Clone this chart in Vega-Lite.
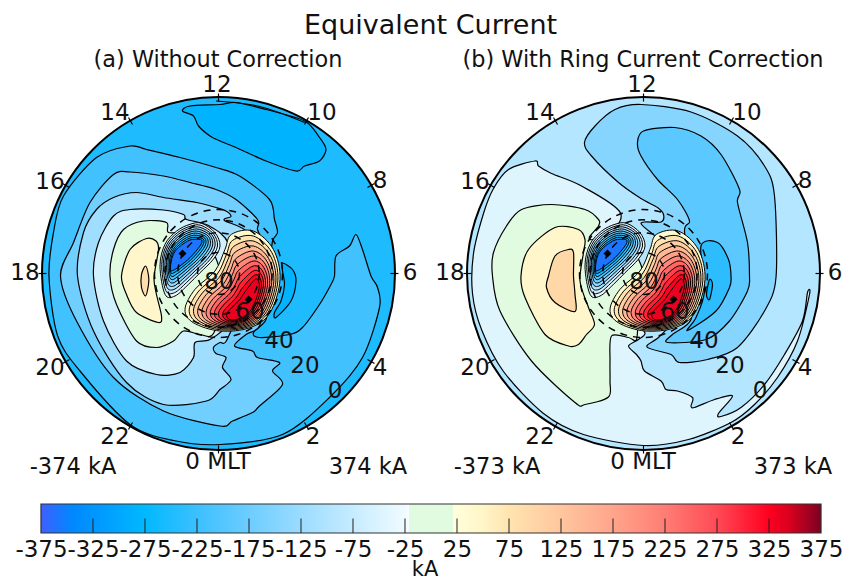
{"$schema":"https://vega.github.io/schema/vega-lite/v6.json","padding":{"top":12,"left":0,"right":0,"bottom":0},"background":"white","spacing":0,"config":{"view":{"stroke":null},"font":"DejaVu Sans"},
"title":{"text":"Equivalent Current","font":"DejaVu Sans","fontSize":27,"fontWeight":"normal","anchor":"start","frame":"group","offset":9,"dy":12,"dx":304,"color":"#111"},
"datasets":{
"peaks":[
{"c":"p0","v":40,"i":0,"x":13,"y":39.2},{"c":"p0","v":40,"i":1,"x":34.8,"y":42.5},{"c":"p0","v":40,"i":2,"x":54.8,"y":24.2},{"c":"p0","v":40,"i":3,"x":61.5,"y":-5.8},{"c":"p0","v":40,"i":4,"x":51.5,"y":-39.2},{"c":"p0","v":40,"i":5,"x":31.5,"y":-54.2},{"c":"p0","v":40,"i":6,"x":1.5,"y":-57.5},{"c":"p0","v":40,"i":7,"x":-25.2,"y":-49.2},{"c":"p0","v":40,"i":8,"x":-33.5,"y":-35.8},{"c":"p0","v":40,"i":9,"x":-23.5,"y":-15.8},{"c":"p0","v":40,"i":10,"x":-3.5,"y":2.5},{"c":"p0","v":40,"i":11,"x":6.5,"y":24.2},
{"c":"p1","v":75,"i":0,"x":14.2,"y":33.2},{"c":"p1","v":75,"i":1,"x":34.8,"y":37.5},{"c":"p1","v":75,"i":2,"x":53.2,"y":21.2},{"c":"p1","v":75,"i":3,"x":59.4,"y":-6.6},{"c":"p1","v":75,"i":4,"x":49.8,"y":-38.5},{"c":"p1","v":75,"i":5,"x":31,"y":-53},{"c":"p1","v":75,"i":6,"x":2.8,"y":-56.4},{"c":"p1","v":75,"i":7,"x":-21.8,"y":-48.7},{"c":"p1","v":75,"i":8,"x":-29.3,"y":-36.1},{"c":"p1","v":75,"i":9,"x":-19.8,"y":-17.6},{"c":"p1","v":75,"i":10,"x":-1.3,"y":-0.7},{"c":"p1","v":75,"i":11,"x":8,"y":19.2},
{"c":"p2","v":110,"i":0,"x":15.4,"y":27.2},{"c":"p2","v":110,"i":1,"x":34.8,"y":32.5},{"c":"p2","v":110,"i":2,"x":51.6,"y":18.2},{"c":"p2","v":110,"i":3,"x":57.4,"y":-7.5},{"c":"p2","v":110,"i":4,"x":48.2,"y":-37.9},{"c":"p2","v":110,"i":5,"x":30.5,"y":-51.9},{"c":"p2","v":110,"i":6,"x":4.2,"y":-55.3},{"c":"p2","v":110,"i":7,"x":-18.4,"y":-48.2},{"c":"p2","v":110,"i":8,"x":-25,"y":-36.5},{"c":"p2","v":110,"i":9,"x":-16.2,"y":-19.5},{"c":"p2","v":110,"i":10,"x":0.8,"y":-3.8},{"c":"p2","v":110,"i":11,"x":9.5,"y":14.2},
{"c":"p3","v":145,"i":0,"x":16.5,"y":21.2},{"c":"p3","v":145,"i":1,"x":34.8,"y":27.5},{"c":"p3","v":145,"i":2,"x":50,"y":15.2},{"c":"p3","v":145,"i":3,"x":55.3,"y":-8.3},{"c":"p3","v":145,"i":4,"x":46.5,"y":-37.2},{"c":"p3","v":145,"i":5,"x":30,"y":-50.7},{"c":"p3","v":145,"i":6,"x":5.5,"y":-54.2},{"c":"p3","v":145,"i":7,"x":-15,"y":-47.7},{"c":"p3","v":145,"i":8,"x":-20.8,"y":-36.8},{"c":"p3","v":145,"i":9,"x":-12.5,"y":-21.3},{"c":"p3","v":145,"i":10,"x":3,"y":-7},{"c":"p3","v":145,"i":11,"x":11,"y":9.2},
{"c":"p4","v":180,"i":0,"x":17.7,"y":15.2},{"c":"p4","v":180,"i":1,"x":34.8,"y":22.5},{"c":"p4","v":180,"i":2,"x":48.4,"y":12.2},{"c":"p4","v":180,"i":3,"x":53.2,"y":-9.2},{"c":"p4","v":180,"i":4,"x":44.8,"y":-36.5},{"c":"p4","v":180,"i":5,"x":29.5,"y":-49.5},{"c":"p4","v":180,"i":6,"x":6.8,"y":-53.1},{"c":"p4","v":180,"i":7,"x":-11.6,"y":-47.2},{"c":"p4","v":180,"i":8,"x":-16.6,"y":-37.2},{"c":"p4","v":180,"i":9,"x":-8.8,"y":-23.2},{"c":"p4","v":180,"i":10,"x":5.2,"y":-10.2},{"c":"p4","v":180,"i":11,"x":12.5,"y":4.2},
{"c":"p5","v":215,"i":0,"x":18.9,"y":9.2},{"c":"p5","v":215,"i":1,"x":34.8,"y":17.5},{"c":"p5","v":215,"i":2,"x":46.8,"y":9.2},{"c":"p5","v":215,"i":3,"x":51.2,"y":-10},{"c":"p5","v":215,"i":4,"x":43.2,"y":-35.8},{"c":"p5","v":215,"i":5,"x":29,"y":-48.4},{"c":"p5","v":215,"i":6,"x":8.1,"y":-52},{"c":"p5","v":215,"i":7,"x":-8.2,"y":-46.7},{"c":"p5","v":215,"i":8,"x":-12.3,"y":-37.5},{"c":"p5","v":215,"i":9,"x":-5.2,"y":-25},{"c":"p5","v":215,"i":10,"x":7.4,"y":-13.4},{"c":"p5","v":215,"i":11,"x":14,"y":-0.8},
{"c":"p6","v":250,"i":0,"x":20.1,"y":3.2},{"c":"p6","v":250,"i":1,"x":34.8,"y":12.5},{"c":"p6","v":250,"i":2,"x":45.2,"y":6.2},{"c":"p6","v":250,"i":3,"x":49.1,"y":-10.8},{"c":"p6","v":250,"i":4,"x":41.5,"y":-35.2},{"c":"p6","v":250,"i":5,"x":28.5,"y":-47.2},{"c":"p6","v":250,"i":6,"x":9.5,"y":-50.9},{"c":"p6","v":250,"i":7,"x":-4.8,"y":-46.2},{"c":"p6","v":250,"i":8,"x":-8.1,"y":-37.8},{"c":"p6","v":250,"i":9,"x":-1.5,"y":-26.8},{"c":"p6","v":250,"i":10,"x":9.5,"y":-16.5},{"c":"p6","v":250,"i":11,"x":15.5,"y":-5.8},
{"c":"p7","v":285,"i":0,"x":21.3,"y":-2.8},{"c":"p7","v":285,"i":1,"x":34.8,"y":7.5},{"c":"p7","v":285,"i":2,"x":43.6,"y":3.2},{"c":"p7","v":285,"i":3,"x":47,"y":-11.7},{"c":"p7","v":285,"i":4,"x":39.8,"y":-34.5},{"c":"p7","v":285,"i":5,"x":28,"y":-46},{"c":"p7","v":285,"i":6,"x":10.8,"y":-49.8},{"c":"p7","v":285,"i":7,"x":-1.4,"y":-45.7},{"c":"p7","v":285,"i":8,"x":-3.9,"y":-38.2},{"c":"p7","v":285,"i":9,"x":2.2,"y":-28.7},{"c":"p7","v":285,"i":10,"x":11.7,"y":-19.7},{"c":"p7","v":285,"i":11,"x":17,"y":-10.8},
{"c":"p8","v":310,"i":0,"x":22.4,"y":-8.8},{"c":"p8","v":310,"i":1,"x":34.8,"y":2.5},{"c":"p8","v":310,"i":2,"x":42,"y":0.2},{"c":"p8","v":310,"i":3,"x":44.9,"y":-12.5},{"c":"p8","v":310,"i":4,"x":38.1,"y":-33.8},{"c":"p8","v":310,"i":5,"x":27.5,"y":-44.8},{"c":"p8","v":310,"i":6,"x":12.1,"y":-48.7},{"c":"p8","v":310,"i":7,"x":2,"y":-45.2},{"c":"p8","v":310,"i":8,"x":0.3,"y":-38.5},{"c":"p8","v":310,"i":9,"x":5.9,"y":-30.5},{"c":"p8","v":310,"i":10,"x":13.9,"y":-22.9},{"c":"p8","v":310,"i":11,"x":18.5,"y":-15.8},
{"c":"p9","v":325,"i":0,"x":23.6,"y":-14.8},{"c":"p9","v":325,"i":1,"x":34.8,"y":-2.5},{"c":"p9","v":325,"i":2,"x":40.4,"y":-2.8},{"c":"p9","v":325,"i":3,"x":42.9,"y":-13.4},{"c":"p9","v":325,"i":4,"x":36.5,"y":-33.2},{"c":"p9","v":325,"i":5,"x":27,"y":-43.7},{"c":"p9","v":325,"i":6,"x":13.5,"y":-47.6},{"c":"p9","v":325,"i":7,"x":5.4,"y":-44.7},{"c":"p9","v":325,"i":8,"x":4.6,"y":-38.9},{"c":"p9","v":325,"i":9,"x":9.5,"y":-32.4},{"c":"p9","v":325,"i":10,"x":16,"y":-26},{"c":"p9","v":325,"i":11,"x":20,"y":-20.8},
{"c":"pa","v":335,"i":0,"x":24.8,"y":-20.8},{"c":"pa","v":335,"i":1,"x":34.8,"y":-7.5},{"c":"pa","v":335,"i":2,"x":38.8,"y":-5.8},{"c":"pa","v":335,"i":3,"x":40.8,"y":-14.2},{"c":"pa","v":335,"i":4,"x":34.8,"y":-32.5},{"c":"pa","v":335,"i":5,"x":26.5,"y":-42.5},{"c":"pa","v":335,"i":6,"x":14.8,"y":-46.5},{"c":"pa","v":335,"i":7,"x":8.8,"y":-44.2},{"c":"pa","v":335,"i":8,"x":8.8,"y":-39.2},{"c":"pa","v":335,"i":9,"x":13.2,"y":-34.2},{"c":"pa","v":335,"i":10,"x":18.2,"y":-29.2},{"c":"pa","v":335,"i":11,"x":21.5,"y":-25.8},
{"c":"n0","v":-35,"i":0,"x":-16.8,"y":50.2},{"c":"n0","v":-35,"i":1,"x":-3.5,"y":40.8},{"c":"n0","v":-35,"i":2,"x":1.5,"y":27.5},{"c":"n0","v":-35,"i":3,"x":-5.2,"y":14.2},{"c":"n0","v":-35,"i":4,"x":-18.5,"y":0.8},{"c":"n0","v":-35,"i":5,"x":-30,"y":-10.8},{"c":"n0","v":-35,"i":6,"x":-43.5,"y":-22.5},{"c":"n0","v":-35,"i":7,"x":-53.5,"y":-20.8},{"c":"n0","v":-35,"i":8,"x":-58.5,"y":7.5},{"c":"n0","v":-35,"i":9,"x":-53.5,"y":29.2},{"c":"n0","v":-35,"i":10,"x":-41.8,"y":42.5},{"c":"n0","v":-35,"i":11,"x":-28.5,"y":49.2},
{"c":"n1","v":-70,"i":0,"x":-17.6,"y":48.2},{"c":"n1","v":-70,"i":1,"x":-5.2,"y":39.9},{"c":"n1","v":-70,"i":2,"x":-1,"y":27.5},{"c":"n1","v":-70,"i":3,"x":-8.1,"y":14.4},{"c":"n1","v":-70,"i":4,"x":-21,"y":1.6},{"c":"n1","v":-70,"i":5,"x":-31.9,"y":-9},{"c":"n1","v":-70,"i":6,"x":-44,"y":-19.2},{"c":"n1","v":-70,"i":7,"x":-52.8,"y":-16.9},{"c":"n1","v":-70,"i":8,"x":-56.8,"y":9},{"c":"n1","v":-70,"i":9,"x":-51.8,"y":28.8},{"c":"n1","v":-70,"i":10,"x":-40.8,"y":41},{"c":"n1","v":-70,"i":11,"x":-28.5,"y":47.2},
{"c":"n2","v":-105,"i":0,"x":-18.5,"y":46.2},{"c":"n2","v":-105,"i":1,"x":-6.8,"y":39},{"c":"n2","v":-105,"i":2,"x":-3.5,"y":27.5},{"c":"n2","v":-105,"i":3,"x":-11,"y":14.6},{"c":"n2","v":-105,"i":4,"x":-23.5,"y":2.5},{"c":"n2","v":-105,"i":5,"x":-33.8,"y":-7.3},{"c":"n2","v":-105,"i":6,"x":-44.6,"y":-16},{"c":"n2","v":-105,"i":7,"x":-52,"y":-12.9},{"c":"n2","v":-105,"i":8,"x":-55.2,"y":10.4},{"c":"n2","v":-105,"i":9,"x":-50.2,"y":28.3},{"c":"n2","v":-105,"i":10,"x":-39.7,"y":39.6},{"c":"n2","v":-105,"i":11,"x":-28.5,"y":45.3},
{"c":"n3","v":-140,"i":0,"x":-19.3,"y":44.2},{"c":"n3","v":-140,"i":1,"x":-8.5,"y":38.1},{"c":"n3","v":-140,"i":2,"x":-6,"y":27.5},{"c":"n3","v":-140,"i":3,"x":-13.9,"y":14.8},{"c":"n3","v":-140,"i":4,"x":-26,"y":3.3},{"c":"n3","v":-140,"i":5,"x":-35.7,"y":-5.5},{"c":"n3","v":-140,"i":6,"x":-45.1,"y":-12.8},{"c":"n3","v":-140,"i":7,"x":-51.2,"y":-9},{"c":"n3","v":-140,"i":8,"x":-53.5,"y":11.9},{"c":"n3","v":-140,"i":9,"x":-48.5,"y":27.9},{"c":"n3","v":-140,"i":10,"x":-38.7,"y":38.1},{"c":"n3","v":-140,"i":11,"x":-28.5,"y":43.3},
{"c":"n4","v":-175,"i":0,"x":-20.2,"y":42.2},{"c":"n4","v":-175,"i":1,"x":-10.1,"y":37.2},{"c":"n4","v":-175,"i":2,"x":-8.5,"y":27.5},{"c":"n4","v":-175,"i":3,"x":-16.8,"y":15},{"c":"n4","v":-175,"i":4,"x":-28.5,"y":4.2},{"c":"n4","v":-175,"i":5,"x":-37.6,"y":-3.8},{"c":"n4","v":-175,"i":6,"x":-45.7,"y":-9.5},{"c":"n4","v":-175,"i":7,"x":-50.5,"y":-5},{"c":"n4","v":-175,"i":8,"x":-51.9,"y":13.3},{"c":"n4","v":-175,"i":9,"x":-46.9,"y":27.5},{"c":"n4","v":-175,"i":10,"x":-37.6,"y":36.7},{"c":"n4","v":-175,"i":11,"x":-28.5,"y":41.4},
{"c":"n5","v":-215,"i":0,"x":-21,"y":40.2},{"c":"n5","v":-215,"i":1,"x":-11.8,"y":36.2},{"c":"n5","v":-215,"i":2,"x":-11,"y":27.5},{"c":"n5","v":-215,"i":3,"x":-19.8,"y":15.2},{"c":"n5","v":-215,"i":4,"x":-31,"y":5},{"c":"n5","v":-215,"i":5,"x":-39.5,"y":-2},{"c":"n5","v":-215,"i":6,"x":-46.2,"y":-6.2},{"c":"n5","v":-215,"i":7,"x":-49.8,"y":-1},{"c":"n5","v":-215,"i":8,"x":-50.2,"y":14.8},{"c":"n5","v":-215,"i":9,"x":-45.2,"y":27},{"c":"n5","v":-215,"i":10,"x":-36.6,"y":35.2},{"c":"n5","v":-215,"i":11,"x":-28.5,"y":39.4},
{"c":"n6","v":-255,"i":0,"x":-21.8,"y":38.2},{"c":"n6","v":-255,"i":1,"x":-13.5,"y":35.3},{"c":"n6","v":-255,"i":2,"x":-13.5,"y":27.5},{"c":"n6","v":-255,"i":3,"x":-22.7,"y":15.4},{"c":"n6","v":-255,"i":4,"x":-33.5,"y":5.8},{"c":"n6","v":-255,"i":5,"x":-41.4,"y":-0.3},{"c":"n6","v":-255,"i":6,"x":-46.7,"y":-3},{"c":"n6","v":-255,"i":7,"x":-49,"y":2.9},{"c":"n6","v":-255,"i":8,"x":-48.5,"y":16.3},{"c":"n6","v":-255,"i":9,"x":-43.5,"y":26.6},{"c":"n6","v":-255,"i":10,"x":-35.6,"y":33.7},{"c":"n6","v":-255,"i":11,"x":-28.5,"y":37.4},
{"c":"n7","v":-300,"i":0,"x":-22.7,"y":36.2},{"c":"n7","v":-300,"i":1,"x":-15.1,"y":34.4},{"c":"n7","v":-300,"i":2,"x":-16,"y":27.5},{"c":"n7","v":-300,"i":3,"x":-25.6,"y":15.6},{"c":"n7","v":-300,"i":4,"x":-36,"y":6.7},{"c":"n7","v":-300,"i":5,"x":-43.3,"y":1.5},{"c":"n7","v":-300,"i":6,"x":-47.3,"y":0.2},{"c":"n7","v":-300,"i":7,"x":-48.2,"y":6.9},{"c":"n7","v":-300,"i":8,"x":-46.9,"y":17.7},{"c":"n7","v":-300,"i":9,"x":-41.9,"y":26.2},{"c":"n7","v":-300,"i":10,"x":-34.5,"y":32.3},{"c":"n7","v":-300,"i":11,"x":-28.5,"y":35.5},
{"c":"n8","v":-360,"i":0,"x":-23.5,"y":34.2},{"c":"n8","v":-360,"i":1,"x":-16.8,"y":33.5},{"c":"n8","v":-360,"i":2,"x":-18.5,"y":27.5},{"c":"n8","v":-360,"i":3,"x":-28.5,"y":15.8},{"c":"n8","v":-360,"i":4,"x":-38.5,"y":7.5},{"c":"n8","v":-360,"i":5,"x":-45.2,"y":3.2},{"c":"n8","v":-360,"i":6,"x":-47.8,"y":3.5},{"c":"n8","v":-360,"i":7,"x":-47.5,"y":10.8},{"c":"n8","v":-360,"i":8,"x":-45.2,"y":19.2},{"c":"n8","v":-360,"i":9,"x":-40.2,"y":25.8},{"c":"n8","v":-360,"i":10,"x":-33.5,"y":30.8},{"c":"n8","v":-360,"i":11,"x":-28.5,"y":33.5}
],
"a":[
{"c":"T","v":-285,"i":0,"x":1.5,"y":169},{"c":"T","v":-285,"i":1,"x":-28.5,"y":167.5},{"c":"T","v":-285,"i":2,"x":-36,"y":162.5},{"c":"T","v":-285,"i":3,"x":-25,"y":157.5},{"c":"T","v":-285,"i":4,"x":-20,"y":147.5},{"c":"T","v":-285,"i":5,"x":-8.5,"y":137.5},{"c":"T","v":-285,"i":6,"x":1.5,"y":132.5},{"c":"T","v":-285,"i":7,"x":17.5,"y":126},{"c":"T","v":-285,"i":8,"x":47.5,"y":112.5},{"c":"T","v":-285,"i":9,"x":77.5,"y":102.5},{"c":"T","v":-285,"i":10,"x":86,"y":107.5},{"c":"T","v":-285,"i":11,"x":101,"y":112.5},{"c":"T","v":-285,"i":12,"x":107.5,"y":124},{"c":"T","v":-285,"i":13,"x":101,"y":136},{"c":"T","v":-285,"i":14,"x":86,"y":152.5},{"c":"T","v":-285,"i":15,"x":47.5,"y":164},{"c":"T","v":-285,"i":16,"x":17.5,"y":171},
{"c":"C1","v":-220,"i":0,"x":54,"y":32.5},{"c":"C1","v":-220,"i":1,"x":59,"y":41},{"c":"C1","v":-220,"i":2,"x":56,"y":54},{"c":"C1","v":-220,"i":3,"x":51,"y":74},{"c":"C1","v":-220,"i":4,"x":21,"y":97.5},{"c":"C1","v":-220,"i":5,"x":-2.5,"y":106},{"c":"C1","v":-220,"i":6,"x":-38.5,"y":116},{"c":"C1","v":-220,"i":7,"x":-72,"y":124},{"c":"C1","v":-220,"i":8,"x":-88.5,"y":127.5},{"c":"C1","v":-220,"i":9,"x":-122,"y":116},{"c":"C1","v":-220,"i":10,"x":-155,"y":77.5},{"c":"C1","v":-220,"i":11,"x":-165,"y":41},{"c":"C1","v":-220,"i":12,"x":-169.5,"y":-2.5},{"c":"C1","v":-220,"i":13,"x":-161,"y":-62},{"c":"C1","v":-220,"i":14,"x":-138.5,"y":-97.5},{"c":"C1","v":-220,"i":15,"x":-88.5,"y":-151},{"c":"C1","v":-220,"i":16,"x":-45,"y":-167},{"c":"C1","v":-220,"i":17,"x":1.5,"y":-171},{"c":"C1","v":-220,"i":18,"x":64,"y":-161},{"c":"C1","v":-220,"i":19,"x":111,"y":-124},{"c":"C1","v":-220,"i":20,"x":144,"y":-84},{"c":"C1","v":-220,"i":21,"x":161,"y":-34},{"c":"C1","v":-220,"i":22,"x":159,"y":-14},{"c":"C1","v":-220,"i":23,"x":152.5,"y":-2.5},{"c":"C1","v":-220,"i":24,"x":144,"y":24},{"c":"C1","v":-220,"i":25,"x":137.5,"y":39},{"c":"C1","v":-220,"i":26,"x":131,"y":27.5},{"c":"C1","v":-220,"i":27,"x":117.5,"y":17.5},{"c":"C1","v":-220,"i":28,"x":116,"y":-2.5},{"c":"C1","v":-220,"i":29,"x":112.5,"y":-11},{"c":"C1","v":-220,"i":30,"x":101,"y":-31},{"c":"C1","v":-220,"i":31,"x":84,"y":-54},{"c":"C1","v":-220,"i":32,"x":71,"y":-61},{"c":"C1","v":-220,"i":33,"x":41,"y":-64},{"c":"C1","v":-220,"i":34,"x":35,"y":-59},{"c":"C1","v":-220,"i":35,"x":47.5,"y":-46},{"c":"C1","v":-220,"i":36,"x":50,"y":-20},{"c":"C1","v":-220,"i":37,"x":52,"y":10},
{"c":"C2","v":-170,"i":0,"x":39,"y":44},{"c":"C2","v":-170,"i":1,"x":39,"y":54},{"c":"C2","v":-170,"i":2,"x":17.5,"y":74},{"c":"C2","v":-170,"i":3,"x":-2.5,"y":84},{"c":"C2","v":-170,"i":4,"x":-28.5,"y":91},{"c":"C2","v":-170,"i":5,"x":-55,"y":97.5},{"c":"C2","v":-170,"i":6,"x":-88.5,"y":101.5},{"c":"C2","v":-170,"i":7,"x":-105,"y":99},{"c":"C2","v":-170,"i":8,"x":-128.5,"y":71},{"c":"C2","v":-170,"i":9,"x":-145,"y":31},{"c":"C2","v":-170,"i":10,"x":-158,"y":-2.5},{"c":"C2","v":-170,"i":11,"x":-142,"y":-47.5},{"c":"C2","v":-170,"i":12,"x":-105,"y":-104},{"c":"C2","v":-170,"i":13,"x":-55,"y":-137.5},{"c":"C2","v":-170,"i":14,"x":1.5,"y":-152.5},{"c":"C2","v":-170,"i":15,"x":14,"y":-147.5},{"c":"C2","v":-170,"i":16,"x":34,"y":-139},{"c":"C2","v":-170,"i":17,"x":41,"y":-132.5},{"c":"C2","v":-170,"i":18,"x":64,"y":-111},{"c":"C2","v":-170,"i":19,"x":54,"y":-97.5},{"c":"C2","v":-170,"i":20,"x":61,"y":-89},{"c":"C2","v":-170,"i":21,"x":39,"y":-84},{"c":"C2","v":-170,"i":22,"x":34,"y":-77.5},{"c":"C2","v":-170,"i":23,"x":16,"y":-72.5},{"c":"C2","v":-170,"i":24,"x":27.5,"y":-61},{"c":"C2","v":-170,"i":25,"x":41,"y":-52.5},{"c":"C2","v":-170,"i":26,"x":45,"y":-20},{"c":"C2","v":-170,"i":27,"x":48,"y":10},{"c":"C2","v":-170,"i":28,"x":45,"y":30},
{"c":"C3","v":-120,"i":0,"x":6,"y":53},{"c":"C3","v":-120,"i":1,"x":12.5,"y":57},{"c":"C3","v":-120,"i":2,"x":7.5,"y":62.5},{"c":"C3","v":-120,"i":3,"x":-2.5,"y":66},{"c":"C3","v":-120,"i":4,"x":-22,"y":71},{"c":"C3","v":-120,"i":5,"x":-55,"y":76},{"c":"C3","v":-120,"i":6,"x":-82,"y":81},{"c":"C3","v":-120,"i":7,"x":-105,"y":76},{"c":"C3","v":-120,"i":8,"x":-122,"y":64},{"c":"C3","v":-120,"i":9,"x":-135,"y":41},{"c":"C3","v":-120,"i":10,"x":-141,"y":-2.5},{"c":"C3","v":-120,"i":11,"x":-125,"y":-57.5},{"c":"C3","v":-120,"i":12,"x":-92,"y":-109},{"c":"C3","v":-120,"i":13,"x":-55,"y":-131},{"c":"C3","v":-120,"i":14,"x":-12,"y":-127.5},{"c":"C3","v":-120,"i":15,"x":1.5,"y":-116},{"c":"C3","v":-120,"i":16,"x":12.5,"y":-106},{"c":"C3","v":-120,"i":17,"x":4,"y":-94},{"c":"C3","v":-120,"i":18,"x":7.5,"y":-84},{"c":"C3","v":-120,"i":19,"x":-2.5,"y":-80},{"c":"C3","v":-120,"i":20,"x":-5,"y":-74},{"c":"C3","v":-120,"i":21,"x":1.5,"y":-69},{"c":"C3","v":-120,"i":22,"x":7.5,"y":-68},{"c":"C3","v":-120,"i":23,"x":20,"y":-40},{"c":"C3","v":-120,"i":24,"x":40,"y":0},{"c":"C3","v":-120,"i":25,"x":30,"y":40},
{"c":"C4","v":-60,"i":0,"x":-32,"y":54},{"c":"C4","v":-60,"i":1,"x":-35,"y":59},{"c":"C4","v":-60,"i":2,"x":-55,"y":63.5},{"c":"C4","v":-60,"i":3,"x":-88.5,"y":64},{"c":"C4","v":-60,"i":4,"x":-105,"y":57.5},{"c":"C4","v":-60,"i":5,"x":-120,"y":31},{"c":"C4","v":-60,"i":6,"x":-125,"y":-2.5},{"c":"C4","v":-60,"i":7,"x":-115,"y":-47.5},{"c":"C4","v":-60,"i":8,"x":-92,"y":-87.5},{"c":"C4","v":-60,"i":9,"x":-62,"y":-101},{"c":"C4","v":-60,"i":10,"x":-38.5,"y":-99},{"c":"C4","v":-60,"i":11,"x":-25,"y":-84},{"c":"C4","v":-60,"i":12,"x":-23.5,"y":-69},{"c":"C4","v":-60,"i":13,"x":-8.5,"y":-66},{"c":"C4","v":-60,"i":14,"x":10,"y":-50},{"c":"C4","v":-60,"i":15,"x":20,"y":-20},{"c":"C4","v":-60,"i":16,"x":10,"y":30},{"c":"C4","v":-60,"i":17,"x":-10,"y":48},
{"c":"C5","v":0,"i":0,"x":-50,"y":41},{"c":"C5","v":0,"i":1,"x":-52,"y":51},{"c":"C5","v":0,"i":2,"x":-75,"y":52.5},{"c":"C5","v":0,"i":3,"x":-95,"y":44},{"c":"C5","v":0,"i":4,"x":-105,"y":24},{"c":"C5","v":0,"i":5,"x":-108.5,"y":-2.5},{"c":"C5","v":0,"i":6,"x":-102,"y":-31},{"c":"C5","v":0,"i":7,"x":-82,"y":-67.5},{"c":"C5","v":0,"i":8,"x":-62,"y":-74},{"c":"C5","v":0,"i":9,"x":-45,"y":-67.5},{"c":"C5","v":0,"i":10,"x":-35,"y":-57.5},{"c":"C5","v":0,"i":11,"x":-18.5,"y":-61},{"c":"C5","v":0,"i":12,"x":-5,"y":-60},{"c":"C5","v":0,"i":13,"x":5,"y":-20},{"c":"C5","v":0,"i":14,"x":-5,"y":20},{"c":"C5","v":0,"i":15,"x":-30,"y":40},
{"c":"C6","v":45,"i":0,"x":-60,"y":24},{"c":"C6","v":45,"i":1,"x":-62.5,"y":32.5},{"c":"C6","v":45,"i":2,"x":-72,"y":35},{"c":"C6","v":45,"i":3,"x":-88.5,"y":24},{"c":"C6","v":45,"i":4,"x":-97,"y":-2.5},{"c":"C6","v":45,"i":5,"x":-92,"y":-21},{"c":"C6","v":45,"i":6,"x":-82,"y":-39},{"c":"C6","v":45,"i":7,"x":-60,"y":-49},{"c":"C6","v":45,"i":8,"x":-57,"y":-42.5},{"c":"C6","v":45,"i":9,"x":-62,"y":-21},{"c":"C6","v":45,"i":10,"x":-64.5,"y":-4},
{"c":"C7","v":85,"i":0,"x":-73,"y":7.5},{"c":"C7","v":85,"i":1,"x":-70,"y":-2},{"c":"C7","v":85,"i":2,"x":-70,"y":-11},{"c":"C7","v":85,"i":3,"x":-73,"y":-22.5},{"c":"C7","v":85,"i":4,"x":-77,"y":-14},{"c":"C7","v":85,"i":5,"x":-77,"y":-1},
{"c":"R","v":-285,"i":0,"x":64,"y":10.5},{"c":"R","v":-285,"i":1,"x":74,"y":4},{"c":"R","v":-285,"i":2,"x":77.5,"y":-7.5},{"c":"R","v":-285,"i":3,"x":72.5,"y":-27.5},{"c":"R","v":-285,"i":4,"x":57.5,"y":-44},{"c":"R","v":-285,"i":5,"x":56,"y":-39},{"c":"R","v":-285,"i":6,"x":62.5,"y":-27.5},{"c":"R","v":-285,"i":7,"x":66,"y":-11},{"c":"R","v":-285,"i":8,"x":64,"y":2.5}
],
"b":[
{"c":"B2","v":-150,"i":0,"x":16,"y":-63},{"c":"B2","v":-150,"i":1,"x":3.5,"y":-73.5},{"c":"B2","v":-150,"i":2,"x":27.5,"y":-81},{"c":"B2","v":-150,"i":3,"x":36,"y":-89},{"c":"B2","v":-150,"i":4,"x":64,"y":-86},{"c":"B2","v":-150,"i":5,"x":94,"y":-74},{"c":"B2","v":-150,"i":6,"x":121,"y":-37.5},{"c":"B2","v":-150,"i":7,"x":132.5,"y":-4},{"c":"B2","v":-150,"i":8,"x":131,"y":77.5},{"c":"B2","v":-150,"i":9,"x":121,"y":107.5},{"c":"B2","v":-150,"i":10,"x":94,"y":137.5},{"c":"B2","v":-150,"i":11,"x":47.5,"y":161.5},{"c":"B2","v":-150,"i":12,"x":-2.5,"y":169},{"c":"B2","v":-150,"i":13,"x":-28.5,"y":164},{"c":"B2","v":-150,"i":14,"x":-48.5,"y":147.5},{"c":"B2","v":-150,"i":15,"x":-59,"y":131},{"c":"B2","v":-150,"i":16,"x":-52,"y":117.5},{"c":"B2","v":-150,"i":17,"x":-25,"y":91},{"c":"B2","v":-150,"i":18,"x":-2.5,"y":75},{"c":"B2","v":-150,"i":19,"x":14,"y":66},{"c":"B2","v":-150,"i":20,"x":20,"y":59},{"c":"B2","v":-150,"i":21,"x":17.5,"y":51.5},{"c":"B2","v":-150,"i":22,"x":-2.5,"y":50},{"c":"B2","v":-150,"i":23,"x":20,"y":30},{"c":"B2","v":-150,"i":24,"x":40,"y":0},{"c":"B2","v":-150,"i":25,"x":35,"y":-40},
{"c":"B3","v":-195,"i":0,"x":41,"y":42.5},{"c":"B3","v":-195,"i":1,"x":46,"y":52.5},{"c":"B3","v":-195,"i":2,"x":34,"y":74},{"c":"B3","v":-195,"i":3,"x":14,"y":94},{"c":"B3","v":-195,"i":4,"x":-2.5,"y":117.5},{"c":"B3","v":-195,"i":5,"x":-6,"y":131},{"c":"B3","v":-195,"i":6,"x":0,"y":142.5},{"c":"B3","v":-195,"i":7,"x":31,"y":146},{"c":"B3","v":-195,"i":8,"x":57.5,"y":137.5},{"c":"B3","v":-195,"i":9,"x":77.5,"y":119},{"c":"B3","v":-195,"i":10,"x":96,"y":84},{"c":"B3","v":-195,"i":11,"x":94,"y":71},{"c":"B3","v":-195,"i":12,"x":104,"y":31},{"c":"B3","v":-195,"i":13,"x":106,"y":-2.5},{"c":"B3","v":-195,"i":14,"x":104,"y":-17.5},{"c":"B3","v":-195,"i":15,"x":86,"y":-47.5},{"c":"B3","v":-195,"i":16,"x":62.5,"y":-66},{"c":"B3","v":-195,"i":17,"x":24,"y":-69},{"c":"B3","v":-195,"i":18,"x":29,"y":-61},{"c":"B3","v":-195,"i":19,"x":47.5,"y":-46},{"c":"B3","v":-195,"i":20,"x":48,"y":-10},
{"c":"B4","v":-245,"i":0,"x":57.5,"y":27.5},{"c":"B4","v":-245,"i":1,"x":74,"y":31},{"c":"B4","v":-245,"i":2,"x":85,"y":14},{"c":"B4","v":-245,"i":3,"x":87.5,"y":-2.5},{"c":"B4","v":-245,"i":4,"x":86,"y":-14},{"c":"B4","v":-245,"i":5,"x":72.5,"y":-37.5},{"c":"B4","v":-245,"i":6,"x":44,"y":-57},{"c":"B4","v":-245,"i":7,"x":52.5,"y":-44},{"c":"B4","v":-245,"i":8,"x":61,"y":-17.5},
{"c":"B5","v":-280,"i":0,"x":66,"y":-6},{"c":"B5","v":-280,"i":1,"x":69,"y":-11},{"c":"B5","v":-280,"i":2,"x":66,"y":-26},{"c":"B5","v":-280,"i":3,"x":63,"y":-21},
{"c":"B1","v":-45,"i":0,"x":-23,"y":60.5},{"c":"B1","v":-45,"i":1,"x":-62,"y":87.5},{"c":"B1","v":-45,"i":2,"x":-92,"y":100},{"c":"B1","v":-45,"i":3,"x":-105,"y":107.5},{"c":"B1","v":-45,"i":4,"x":-108.5,"y":112.5},{"c":"B1","v":-45,"i":5,"x":-135,"y":104},{"c":"B1","v":-45,"i":6,"x":-150,"y":85},{"c":"B1","v":-45,"i":7,"x":-160,"y":60},{"c":"B1","v":-45,"i":8,"x":-170,"y":20},{"c":"B1","v":-45,"i":9,"x":-171,"y":-20},{"c":"B1","v":-45,"i":10,"x":-162,"y":-56},{"c":"B1","v":-45,"i":11,"x":-140,"y":-98},{"c":"B1","v":-45,"i":12,"x":-100,"y":-140},{"c":"B1","v":-45,"i":13,"x":-60,"y":-161},{"c":"B1","v":-45,"i":14,"x":0,"y":-172},{"c":"B1","v":-45,"i":15,"x":45,"y":-166},{"c":"B1","v":-45,"i":16,"x":87.5,"y":-149},{"c":"B1","v":-45,"i":17,"x":111,"y":-131},{"c":"B1","v":-45,"i":18,"x":134,"y":-104},{"c":"B1","v":-45,"i":19,"x":154,"y":-67.5},{"c":"B1","v":-45,"i":20,"x":166,"y":-21},{"c":"B1","v":-45,"i":21,"x":164,"y":-19},{"c":"B1","v":-45,"i":22,"x":159,"y":-47.5},{"c":"B1","v":-45,"i":23,"x":141,"y":-81},{"c":"B1","v":-45,"i":24,"x":121,"y":-111},{"c":"B1","v":-45,"i":25,"x":97.5,"y":-134},{"c":"B1","v":-45,"i":26,"x":77.5,"y":-143},{"c":"B1","v":-45,"i":27,"x":75,"y":-140},{"c":"B1","v":-45,"i":28,"x":89,"y":-122.5},{"c":"B1","v":-45,"i":29,"x":71,"y":-126},{"c":"B1","v":-45,"i":30,"x":51,"y":-134},{"c":"B1","v":-45,"i":31,"x":47.5,"y":-132.5},{"c":"B1","v":-45,"i":32,"x":49,"y":-124},{"c":"B1","v":-45,"i":33,"x":34,"y":-117.5},{"c":"B1","v":-45,"i":34,"x":22.5,"y":-116},{"c":"B1","v":-45,"i":35,"x":17.5,"y":-107.5},{"c":"B1","v":-45,"i":36,"x":1,"y":-97.5},{"c":"B1","v":-45,"i":37,"x":-2.5,"y":-87.5},{"c":"B1","v":-45,"i":38,"x":-7,"y":-81},{"c":"B1","v":-45,"i":39,"x":-15,"y":-72.5},{"c":"B1","v":-45,"i":40,"x":-5,"y":-66},{"c":"B1","v":-45,"i":41,"x":1.5,"y":-60},{"c":"B1","v":-45,"i":42,"x":-5,"y":-50},{"c":"B1","v":-45,"i":43,"x":-30,"y":-10},{"c":"B1","v":-45,"i":44,"x":-35,"y":30},
{"c":"B6","v":0,"i":0,"x":-53.5,"y":34},{"c":"B6","v":0,"i":1,"x":-45,"y":47.5},{"c":"B6","v":0,"i":2,"x":-45,"y":54},{"c":"B6","v":0,"i":3,"x":-58.5,"y":64},{"c":"B6","v":0,"i":4,"x":-92,"y":69},{"c":"B6","v":0,"i":5,"x":-122,"y":64},{"c":"B6","v":0,"i":6,"x":-137,"y":47.5},{"c":"B6","v":0,"i":7,"x":-150,"y":21},{"c":"B6","v":0,"i":8,"x":-151,"y":-2.5},{"c":"B6","v":0,"i":9,"x":-143.5,"y":-37.5},{"c":"B6","v":0,"i":10,"x":-112,"y":-87.5},{"c":"B6","v":0,"i":11,"x":-68.5,"y":-129},{"c":"B6","v":0,"i":12,"x":-58.5,"y":-131},{"c":"B6","v":0,"i":13,"x":-35,"y":-123.5},{"c":"B6","v":0,"i":14,"x":-33.5,"y":-107.5},{"c":"B6","v":0,"i":15,"x":-33.5,"y":-87.5},{"c":"B6","v":0,"i":16,"x":-32,"y":-62.5},{"c":"B6","v":0,"i":17,"x":-15,"y":-64},{"c":"B6","v":0,"i":18,"x":-7,"y":-66},{"c":"B6","v":0,"i":19,"x":-5,"y":-40},{"c":"B6","v":0,"i":20,"x":0,"y":0},{"c":"B6","v":0,"i":21,"x":-20,"y":35},
{"c":"B7","v":45,"i":0,"x":-60,"y":21},{"c":"B7","v":45,"i":1,"x":-58.5,"y":34},{"c":"B7","v":45,"i":2,"x":-65,"y":44},{"c":"B7","v":45,"i":3,"x":-88.5,"y":46},{"c":"B7","v":45,"i":4,"x":-115,"y":24},{"c":"B7","v":45,"i":5,"x":-122.5,"y":-2.5},{"c":"B7","v":45,"i":6,"x":-118.5,"y":-24},{"c":"B7","v":45,"i":7,"x":-98.5,"y":-61},{"c":"B7","v":45,"i":8,"x":-75,"y":-72.5},{"c":"B7","v":45,"i":9,"x":-65,"y":-71},{"c":"B7","v":45,"i":10,"x":-57,"y":-61},{"c":"B7","v":45,"i":11,"x":-49,"y":-51},{"c":"B7","v":45,"i":12,"x":-55,"y":-34},{"c":"B7","v":45,"i":13,"x":-63.5,"y":-7.5},
{"c":"B8","v":95,"i":0,"x":-70,"y":21},{"c":"B8","v":95,"i":1,"x":-75,"y":24},{"c":"B8","v":95,"i":2,"x":-88.5,"y":17.5},{"c":"B8","v":95,"i":3,"x":-95,"y":-2.5},{"c":"B8","v":95,"i":4,"x":-97,"y":-14},{"c":"B8","v":95,"i":5,"x":-88.5,"y":-29},{"c":"B8","v":95,"i":6,"x":-68.5,"y":-38},{"c":"B8","v":95,"i":7,"x":-68.5,"y":-21},{"c":"B8","v":95,"i":8,"x":-70,"y":-2.5}
],
"circles":[{"lat":20,"x":0,"y":0},{"lat":40,"x":0,"y":0},{"lat":60,"x":0,"y":0},{"lat":80,"x":0,"y":0}],
"rimTicks":[{"x":0,"y":172,"x2":0,"y2":180},{"x":-86,"y":149,"x2":-90,"y2":156},{"x":-149,"y":86,"x2":-156,"y2":90},{"x":-172,"y":0,"x2":-180,"y2":0},{"x":-149,"y":-86,"x2":-156,"y2":-90},{"x":-86,"y":-149,"x2":-90,"y2":-156},{"x":0,"y":-172,"x2":0,"y2":-180},{"x":86,"y":-149,"x2":90,"y2":-156},{"x":149,"y":-86,"x2":156,"y2":-90},{"x":172,"y":0,"x2":180,"y2":0},{"x":149,"y":86,"x2":156,"y2":90},{"x":86,"y":149,"x2":90,"y2":156}],
"marks":[{"x":-36,"y":20},{"x":30,"y":-26}],
"labels":[{"t":"12","x":-1.5,"y":188.5},{"t":"14","x":-103.5,"y":160.5},{"t":"10","x":103.5,"y":160.5},{"t":"16","x":-168.5,"y":91.5},{"t":"8","x":161.5,"y":92.5},{"t":"18","x":-193.5,"y":0.5},{"t":"6","x":191.5,"y":0.5},{"t":"20","x":-168.5,"y":-94.5},{"t":"4","x":161.5,"y":-94.5},{"t":"22","x":-103.5,"y":-163.5},{"t":"2","x":94.5,"y":-163.5},{"t":"0 MLT","x":-0.5,"y":-188.5},{"t":"80","x":0.5,"y":-8.5},{"t":"60","x":31.5,"y":-38.5},{"t":"40","x":60.5,"y":-67.5},{"t":"20","x":86.5,"y":-92.5},{"t":"0","x":116.5,"y":-117.5}]
},
"vconcat":[
{"hconcat":[
{"width":424,"height":466,
"encoding":{"x":{"field":"x","type":"quantitative","axis":null,"scale":{"domain":[-218.5,205.5],"nice":false,"zero":false}},"y":{"field":"y","type":"quantitative","axis":null,"scale":{"domain":[-229.5,236.5],"nice":false,"zero":false}}},
"layer":[
{"data":{"values":[{"x":0,"y":0,"v":-260}]},"mark":{"type":"point","filled":true,"size":124609,"opacity":1},"encoding":{"color":{"field":"v","type":"quantitative","legend":null,"scale":{"domain":[-375,-345,-275,-225,-175,-125,-75,-25,-21.5,-20.5,20.5,21.5,50,75,125,175,225,275,325,345,375],"range":["#3f5fff","#0088ff","#00b9ff","#3cc0ff","#6ccdff","#9bdcff","#c6ecff","#f0fbff","#f8fdff","#e0fbdf","#e0fbdf","#ffffdc","#fff5c8","#ffe4b0","#ffc69e","#ffa58c","#ff7d74","#ff4a55","#ff0020","#d8001f","#7d0022"]}}}},
{"data":{"name":"a"},"mark":{"type":"line","interpolate":"cardinal-closed","tension":0.1,"stroke":"black","strokeWidth":1.2},"encoding":{"detail":{"field":"c"},"order":{"field":"i"},"fill":{"field":"v","type":"quantitative","legend":null,"scale":{"domain":[-375,-345,-275,-225,-175,-125,-75,-25,-21.5,-20.5,20.5,21.5,50,75,125,175,225,275,325,345,375],"range":["#3f5fff","#0088ff","#00b9ff","#3cc0ff","#6ccdff","#9bdcff","#c6ecff","#f0fbff","#f8fdff","#e0fbdf","#e0fbdf","#ffffdc","#fff5c8","#ffe4b0","#ffc69e","#ffa58c","#ff7d74","#ff4a55","#ff0020","#d8001f","#7d0022"]}}}},
{"data":{"values":[{"i":0,"x":-2.5,"y":172.5},{"i":1,"x":41,"y":167},{"i":2,"x":86,"y":151}]},"mark":{"type":"line","interpolate":"monotone","stroke":"black","strokeWidth":1.2},"encoding":{"order":{"field":"i"}}},
{"data":{"name":"peaks"},"mark":{"type":"line","interpolate":"cardinal-closed","tension":0,"stroke":"black","strokeWidth":1},"encoding":{"detail":{"field":"c"},"order":{"field":"i"},"fill":{"field":"v","type":"quantitative","legend":null,"scale":{"domain":[-375,-345,-275,-225,-175,-125,-75,-25,-21.5,-20.5,20.5,21.5,50,75,125,175,225,275,325,345,375],"range":["#3f5fff","#0088ff","#00b9ff","#3cc0ff","#6ccdff","#9bdcff","#c6ecff","#f0fbff","#f8fdff","#e0fbdf","#e0fbdf","#ffffdc","#fff5c8","#ffe4b0","#ffc69e","#ffa58c","#ff7d74","#ff4a55","#ff0020","#d8001f","#7d0022"]}}}},
{"data":{"name":"circles"},"mark":{"type":"point","filled":false,"stroke":"black","strokeWidth":1.5,"strokeDash":[7,6],"opacity":1},"encoding":{"size":{"field":"lat","type":"ordinal","legend":null,"scale":{"domain":[80,60,40,20],"range":[1764,16384,44100,84100]}}}},
{"data":{"values":[{"x":0,"y":0}]},"mark":{"type":"point","filled":false,"size":124609,"stroke":"black","strokeWidth":2,"opacity":1}},
{"data":{"name":"rimTicks"},"mark":{"type":"rule","stroke":"black","strokeWidth":1.2},"encoding":{"x2":{"field":"x2"},"y2":{"field":"y2"}}},
{"data":{"name":"marks"},"mark":{"type":"point","shape":"diamond","filled":true,"size":64,"color":"black","opacity":1}},
{"data":{"name":"labels"},"mark":{"type":"text","font":"DejaVu Sans","fontSize":23,"color":"#111","align":"center","baseline":"middle"},"encoding":{"text":{"field":"t"}}},
{"data":{"values":[{"t":"-374 kA","x":-145.5,"y":-193.5},{"t":"374 kA","x":149.5,"y":-193.5}]},"mark":{"type":"text","font":"DejaVu Sans","fontSize":22.5,"color":"#111","align":"center","baseline":"middle"},"encoding":{"text":{"field":"t"}}},
{"data":{"values":[{"t":"(a) Without Correction","x":-0.5,"y":213.5}]},"mark":{"type":"text","font":"DejaVu Sans","fontSize":22.4,"color":"#111","align":"center","baseline":"middle"},"encoding":{"text":{"field":"t"}}}
]},
{"width":425,"height":466,
"encoding":{"x":{"field":"x","type":"quantitative","axis":null,"scale":{"domain":[-219.5,205.5],"nice":false,"zero":false}},"y":{"field":"y","type":"quantitative","axis":null,"scale":{"domain":[-229.5,236.5],"nice":false,"zero":false}}},
"layer":[
{"data":{"values":[{"x":0,"y":0,"v":-95}]},"mark":{"type":"point","filled":true,"size":124609,"opacity":1},"encoding":{"color":{"field":"v","type":"quantitative","legend":null,"scale":{"domain":[-375,-345,-275,-225,-175,-125,-75,-25,-21.5,-20.5,20.5,21.5,50,75,125,175,225,275,325,345,375],"range":["#3f5fff","#0088ff","#00b9ff","#3cc0ff","#6ccdff","#9bdcff","#c6ecff","#f0fbff","#f8fdff","#e0fbdf","#e0fbdf","#ffffdc","#fff5c8","#ffe4b0","#ffc69e","#ffa58c","#ff7d74","#ff4a55","#ff0020","#d8001f","#7d0022"]}}}},
{"data":{"name":"b"},"mark":{"type":"line","interpolate":"cardinal-closed","tension":0.1,"stroke":"black","strokeWidth":1.2},"encoding":{"detail":{"field":"c"},"order":{"field":"i"},"fill":{"field":"v","type":"quantitative","legend":null,"scale":{"domain":[-375,-345,-275,-225,-175,-125,-75,-25,-21.5,-20.5,20.5,21.5,50,75,125,175,225,275,325,345,375],"range":["#3f5fff","#0088ff","#00b9ff","#3cc0ff","#6ccdff","#9bdcff","#c6ecff","#f0fbff","#f8fdff","#e0fbdf","#e0fbdf","#ffffdc","#fff5c8","#ffe4b0","#ffc69e","#ffa58c","#ff7d74","#ff4a55","#ff0020","#d8001f","#7d0022"]}}}},
{"data":{"name":"peaks"},"mark":{"type":"line","interpolate":"cardinal-closed","tension":0,"stroke":"black","strokeWidth":1},"encoding":{"detail":{"field":"c"},"order":{"field":"i"},"fill":{"field":"v","type":"quantitative","legend":null,"scale":{"domain":[-375,-345,-275,-225,-175,-125,-75,-25,-21.5,-20.5,20.5,21.5,50,75,125,175,225,275,325,345,375],"range":["#3f5fff","#0088ff","#00b9ff","#3cc0ff","#6ccdff","#9bdcff","#c6ecff","#f0fbff","#f8fdff","#e0fbdf","#e0fbdf","#ffffdc","#fff5c8","#ffe4b0","#ffc69e","#ffa58c","#ff7d74","#ff4a55","#ff0020","#d8001f","#7d0022"]}}}},
{"data":{"name":"circles"},"mark":{"type":"point","filled":false,"stroke":"black","strokeWidth":1.5,"strokeDash":[7,6],"opacity":1},"encoding":{"size":{"field":"lat","type":"ordinal","legend":null,"scale":{"domain":[80,60,40,20],"range":[1764,16384,44100,84100]}}}},
{"data":{"values":[{"x":0,"y":0}]},"mark":{"type":"point","filled":false,"size":124609,"stroke":"black","strokeWidth":2,"opacity":1}},
{"data":{"name":"rimTicks"},"mark":{"type":"rule","stroke":"black","strokeWidth":1.2},"encoding":{"x2":{"field":"x2"},"y2":{"field":"y2"}}},
{"data":{"name":"marks"},"mark":{"type":"point","shape":"diamond","filled":true,"size":64,"color":"black","opacity":1}},
{"data":{"name":"labels"},"mark":{"type":"text","font":"DejaVu Sans","fontSize":23,"color":"#111","align":"center","baseline":"middle"},"encoding":{"text":{"field":"t"}}},
{"data":{"values":[{"t":"-373 kA","x":-146.5,"y":-193.5},{"t":"373 kA","x":149.5,"y":-193.5}]},"mark":{"type":"text","font":"DejaVu Sans","fontSize":22.5,"color":"#111","align":"center","baseline":"middle"},"encoding":{"text":{"field":"t"}}},
{"data":{"values":[{"t":"(b) With Ring Current Correction","x":-0.5,"y":213.5}]},"mark":{"type":"text","font":"DejaVu Sans","fontSize":22.4,"color":"#111","align":"center","baseline":"middle"},"encoding":{"text":{"field":"t"}}}
]}
],"spacing":0,"bounds":"flush"},
{"width":849,"height":29,
"layer":[
{"data":{"values":[{"a":-375,"b":375}]},"mark":{"type":"rect","stroke":"#333","strokeWidth":1.2,"color":{"gradient":"linear","x1":0,"x2":1,"y1":0,"y2":0,"stops":[{"offset":0,"color":"#3f5fff"},{"offset":0.04,"color":"#0088ff"},{"offset":0.133,"color":"#00b9ff"},{"offset":0.2,"color":"#3cc0ff"},{"offset":0.267,"color":"#6ccdff"},{"offset":0.333,"color":"#9bdcff"},{"offset":0.4,"color":"#c6ecff"},{"offset":0.467,"color":"#f0fbff"},{"offset":0.472,"color":"#f8fdff"},{"offset":0.472,"color":"#e0fbdf"},{"offset":0.528,"color":"#e0fbdf"},{"offset":0.528,"color":"#ffffdc"},{"offset":0.567,"color":"#fff5c8"},{"offset":0.6,"color":"#ffe4b0"},{"offset":0.667,"color":"#ffc69e"},{"offset":0.733,"color":"#ffa58c"},{"offset":0.8,"color":"#ff7d74"},{"offset":0.867,"color":"#ff4a55"},{"offset":0.933,"color":"#ff0020"},{"offset":0.96,"color":"#d8001f"},{"offset":1,"color":"#7d0022"}]}},
"encoding":{"x":{"field":"a","type":"quantitative","scale":{"domain":[-414.4,401.9],"nice":false,"zero":false},"axis":{"values":[-375,-325,-275,-225,-175,-125,-75,-25,25,75,125,175,225,275,325,375],"labelExpr":"'' + datum.value","domain":false,"grid":false,"ticks":false,"labelPadding":5,"labelFontSize":23,"labelFont":"DejaVu Sans","labelColor":"#111","labelOverlap":false,"labelFlush":false,"labelBound":false,"title":"kA","titleFontSize":21,"titleFont":"DejaVu Sans","titleFontWeight":"normal","titleColor":"#111","titlePadding":-3}},"x2":{"field":"b"}}},
{"data":{"values":[{"v":-325},{"v":-275},{"v":-225},{"v":-175},{"v":-125},{"v":-75},{"v":-25},{"v":25},{"v":75},{"v":125},{"v":175},{"v":225},{"v":275},{"v":325}]},"mark":{"type":"rule","stroke":"#222","strokeWidth":1},"encoding":{"x":{"field":"v","type":"quantitative"},"y":{"datum":0.5,"type":"quantitative","axis":null,"scale":{"domain":[0,1],"nice":false,"zero":false}},"y2":{"datum":0}}}
]}
]}
